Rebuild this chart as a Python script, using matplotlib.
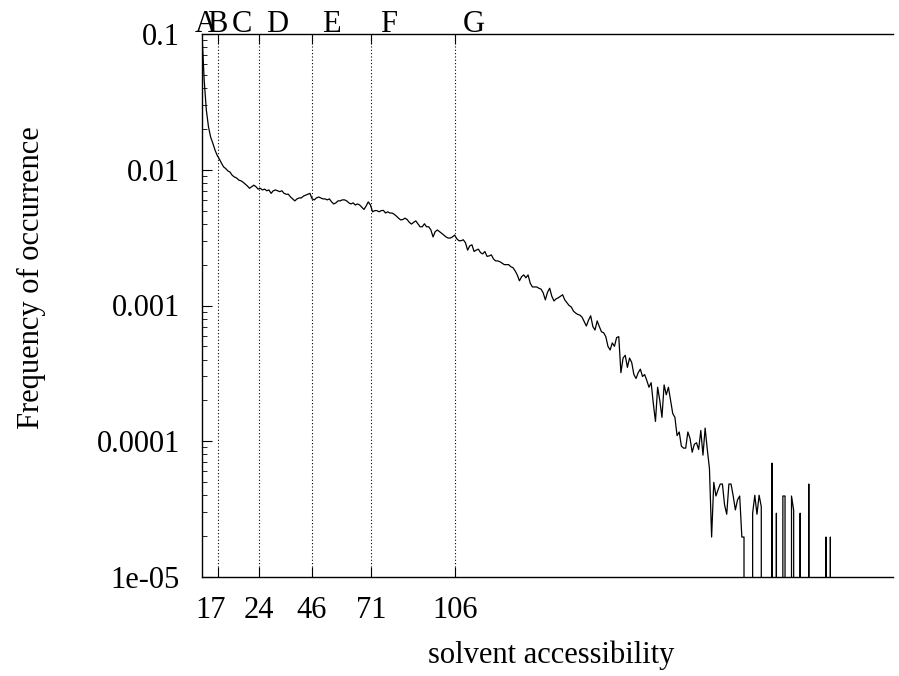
import matplotlib
matplotlib.use("Agg")
import matplotlib.pyplot as plt
import matplotlib.transforms as mtransforms
from matplotlib.ticker import LogLocator, NullFormatter

plt.rcParams['font.family'] = ['Liberation Serif', 'DejaVu Serif']

# ---- data ----
freq = [
    0.1, 0.046, 0.0276, 0.0207, 0.0174, 0.0157, 0.014, 0.0128, 0.012, 0.0112,
    0.0105, 0.0102, 0.0098, 0.0096, 0.0091, 0.00885, 0.0087, 0.0084, 0.0083, 0.0081,
    0.00785, 0.0076, 0.0073, 0.0075, 0.0077, 0.0075, 0.0072, 0.0073, 0.0071, 0.0072,
    0.0070, 0.0071, 0.0067, 0.0070, 0.0071, 0.0070, 0.0069, 0.0070, 0.0067, 0.0066,
    0.0066, 0.0063, 0.0061, 0.0059, 0.0061, 0.0062, 0.0062, 0.0064, 0.0065, 0.0066,
    0.0067, 0.0061, 0.0060, 0.0062, 0.0063, 0.0062, 0.0061, 0.0061, 0.0060, 0.0061,
    0.0058, 0.0056, 0.0057, 0.0059, 0.0059, 0.0060, 0.0060, 0.0059, 0.0057, 0.0056,
    0.0057, 0.0055, 0.0056, 0.0055, 0.0053, 0.0051, 0.0054, 0.0058, 0.0055, 0.0049,
    0.0050, 0.0050, 0.0049, 0.0050, 0.00502, 0.0048, 0.0049, 0.0048, 0.0048, 0.0047,
    0.00456, 0.0044, 0.00427, 0.0043, 0.0044, 0.0043, 0.0041, 0.00398, 0.0041, 0.0042,
    0.0040, 0.0038, 0.0038, 0.0040, 0.0038, 0.0038, 0.0036, 0.0032, 0.0035, 0.0036,
    0.0035, 0.0034, 0.0033, 0.0032, 0.00314, 0.00314, 0.0032, 0.0033, 0.0031, 0.0030,
    0.0030, 0.00305, 0.0029, 0.00256, 0.00275, 0.0028, 0.0025, 0.00256, 0.0026, 0.00245,
    0.0024, 0.0025, 0.0023, 0.00232, 0.00236, 0.0022, 0.00213, 0.00213, 0.0021, 0.00205,
    0.0020, 0.0020, 0.0020, 0.00193, 0.0019, 0.0018, 0.00168, 0.00152, 0.00163, 0.00168,
    0.0016, 0.00168, 0.00146, 0.00137, 0.00137, 0.00137, 0.00134, 0.00132, 0.00124, 0.0011,
    0.00125, 0.00134, 0.00117, 0.00108, 0.00112, 0.00114, 0.00117, 0.0012, 0.0011, 0.00105,
    0.0010, 0.000975, 0.00091, 0.00088, 0.00086, 0.00085, 0.00082, 0.00076, 0.000706, 0.00078,
    0.00084, 0.0007, 0.00066, 0.00077, 0.0007, 0.00064, 0.00063, 0.00059, 0.0005, 0.00047,
    0.00053, 0.0005, 0.00058, 0.00059, 0.00032, 0.00041, 0.00043, 0.00035, 0.00041, 0.00038,
    0.00031, 0.00029, 0.00032, 0.00034, 0.0003, 0.00031, 0.00028, 0.00025, 0.00027, 0.00019,
    0.00014, 0.00025, 0.0002, 0.00015, 0.00026, 0.00022, 0.00025, 0.0002, 0.00016, 0.00015,
    0.00011, 0.000117, 0.000092, 0.000089, 0.000089, 0.000117, 0.000105, 0.000083, 0.000095, 0.0000975,
    0.000087, 0.00012, 0.000079, 0.000125, 0.000087, 0.000063, 0.0000197, 0.0000498, 0.0000395, 0.000044,
    0.0000484, 0.0000484, 0.000034, 0.000029, 0.0000484, 0.0000484, 0.0000395, 0.0000312, 0.000037, 0.0000395,
    0.0000197, 0.0000197, 0, 0, 0, 0.0000295, 0.00004, 0.000029, 0.00004, 0.000033,
    0, 0, 0, 0, 0.000069, 0, 0.0000295, 0, 0, 0.0000395,
    0.0000395, 0, 0, 0.0000395, 0.000031, 0, 0, 0.0000295, 0, 0,
    0, 0.0000484, 0, 0, 0, 0, 0, 0, 0, 0.0000197,
    0, 0.0000197, 0, 0, 0, 0, 0, 0, 0, 0, 0,
]
bins = list(range(len(freq)))

class_boundaries = [7.4, 26.4, 50.9, 78.2, 117.1]
boundary_labels = ["17", "24", "46", "71", "106"]
class_names = ["A", "B", "C", "D", "E", "F", "G"]
class_name_pos = [1.9, 6.9, 18.5, 34.7, 59.7, 86.6, 125.9]

ytick_vals = [1e-5, 1e-4, 1e-3, 1e-2, 1e-1]
ytick_labels = ["1e-05", "0.0001", "0.001", "0.01", "0.1"]

# ---- figure ----
W, H = 899, 676
fig = plt.figure(figsize=(W / 100, H / 100), dpi=100)
ax = fig.add_axes([202 / W, 1 - 577 / H, 691 / W, 543 / H])

ax.set_yscale('log', nonpositive='clip')
ax.plot(bins, freq, color='black', lw=0.9)
ax.set_xlim(0, 320)
ax.set_ylim(1e-5, 0.1)

for b in class_boundaries:
    ax.axvline(b, color='black', lw=0.8, linestyle=(0, (1, 2)))

fs = 22
ax.set_xticks(class_boundaries, labels=boundary_labels)
ax.tick_params(axis='x', direction='in', length=7, width=0.8, top=True, bottom=True,
               labelsize=fs, pad=14)
lbl0 = ax.get_xticklabels()[0]
lbl0.set_transform(lbl0.get_transform() + mtransforms.ScaledTranslation(-0.07, 0, fig.dpi_scale_trans))

ax.set_yticks(ytick_vals, labels=ytick_labels)
ax.yaxis.set_minor_locator(LogLocator(base=10, subs=range(2, 10)))
ax.yaxis.set_minor_formatter(NullFormatter())
ax.tick_params(axis='y', which='major', direction='in', length=7, width=0.8,
               left=True, right=False, labelsize=fs, pad=16)
ax.tick_params(axis='y', which='minor', direction='in', length=3.5, width=0.6,
               left=True, right=False)

for side in ['left', 'top', 'bottom']:
    ax.spines[side].set_linewidth(1.0)
ax.spines['right'].set_visible(False)

trans = mtransforms.blended_transform_factory(ax.transData, ax.transAxes)
for name, pos in zip(class_names, class_name_pos):
    ax.text(pos, 1.0 + 1.5 / 543, name, transform=trans, ha='center', va='baseline', fontsize=fs)

fig.text(551 / W, 1 - 655 / H, "solvent accessibility", ha='center', va='center', fontsize=fs)
fig.text(31.5 / W, 1 - 278 / H, "Frequency of occurrence", ha='center', va='center',
         rotation=90, fontsize=fs)

fig.savefig("out.png", dpi=100)
